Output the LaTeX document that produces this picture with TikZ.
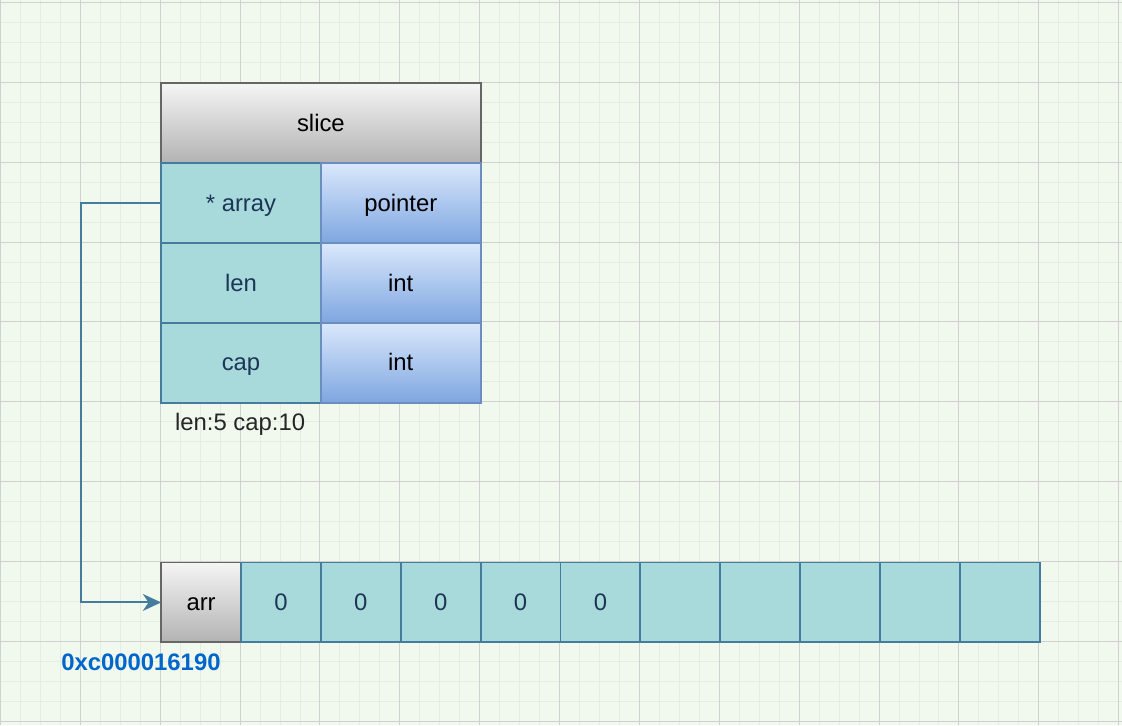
\documentclass[tikz,border=0pt]{standalone}
\usepackage{fontspec}
\setmainfont{Liberation Sans}
\usetikzlibrary{arrows.meta}

\definecolor{paper}{HTML}{F1F9EE}
\definecolor{minorgrid}{HTML}{E3EDE0}
\definecolor{majorgrid}{HTML}{D0D0D0}
\definecolor{tealfill}{HTML}{A8DADC}
\definecolor{tealline}{HTML}{457B9D}
\definecolor{tealtext}{HTML}{1D3557}
\definecolor{grayline}{HTML}{666666}
\definecolor{blueline}{HTML}{6C8EBF}
\definecolor{addrblue}{HTML}{0066CC}

\begin{document}
\begin{tikzpicture}[x=0.025cm, y=-0.025cm,
    every node/.style={inner sep=0pt, outer sep=0pt, font=\fontsize{17}{20}\selectfont, text height=14.5pt, text depth=3pt},
    cell/.style={draw=tealline, line width=1.4pt, fill=tealfill, text=tealtext, minimum width=2cm, minimum height=2cm},
    header/.style={draw=grayline, line width=1.4pt, top color=white!96!black, bottom color=black!30, text=black, minimum height=2cm},
    typecell/.style={draw=blueline, line width=1.4pt, top color={rgb,255:red,218;green,232;blue,252}, bottom color={rgb,255:red,126;green,166;blue,224}, text=black, minimum width=4cm, minimum height=2cm},
    pointsto/.style={draw=tealline, line width=1.4pt, -{Stealth[length=13pt, width=12pt, inset=4pt]}}]

    % page and grid
    \fill[paper] (0,0) rectangle (1122,726);
    \foreach \x in {19,39,...,1119} \draw[minorgrid, line width=0.6pt] (\x,0) -- (\x,726);
    \foreach \y in {2,22,...,722} \draw[minorgrid, line width=0.6pt] (0,\y) -- (1122,\y);
    \foreach \x in {-1,79,...,1119} \draw[majorgrid, line width=0.6pt] (\x,0) -- (\x,726);
    \foreach \y in {2,82,...,722} \draw[majorgrid, line width=0.6pt] (0,\y) -- (1122,\y);
    \useasboundingbox (0,0) rectangle (1122,726);

    % the slice header
    \node[header, minimum width=8cm] (slice) at (320,123) {slice};
    \node[cell, minimum width=4cm] (array) at (240,203) {* array};
    \node[cell, minimum width=4cm] (len) at (240,283) {len};
    \node[cell, minimum width=4cm] (cap) at (240,363) {cap};
    \node[typecell] (pointer) at (400,203) {pointer};
    \node[typecell] (lenint) at (400,283) {int};
    \node[typecell] (capint) at (400,363) {int};
    \node[anchor=west, text=black!85] (lencap) at (174,423) {len:5 cap:10};

    % underlying array
    \node[header, minimum width=2cm] (arr) at (200,603) {arr};
    \foreach \i in {1,...,10} {
        \ifnum\i<6
            \node[cell] (elem\i) at (200+80*\i,603) {0};
        \else
            \node[cell] (elem\i) at (200+80*\i,603) {};
        \fi
    }
    \node[anchor=west, text=addrblue, font=\fontsize{17}{20}\selectfont\bfseries] (addr) at (60,663) {0xc000016190};

    \coordinate (bend) at (80,203);
    \draw[pointsto] (array.west) -- (bend) |- (arr.west);
\end{tikzpicture}
\end{document}
